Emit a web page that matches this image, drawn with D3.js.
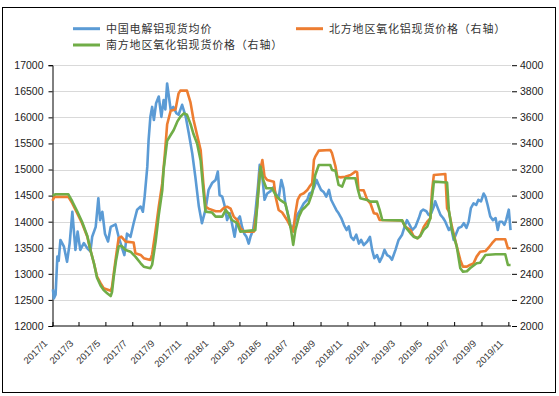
<!DOCTYPE html>
<html><head><meta charset="utf-8">
<script src="https://cdn.jsdelivr.net/npm/d3@7"></script>
<style>
body{margin:0;background:#fff;}
text{font-family:"Liberation Sans",Arial,sans-serif;}
.cjk{font-family:"Noto Sans CJK SC",sans-serif;}
</style></head>
<body><svg id="c" width="559" height="396"></svg>
<script>
const seriesNames = ["中国电解铝现货均价","北方地区氧化铝现货价格（右轴）","南方地区氧化铝现货价格（右轴）"];
const leftTicks = [12000,12500,13000,13500,14000,14500,15000,15500,16000,16500,17000];
const rightTicks = [2000,2200,2400,2600,2800,3000,3200,3400,3600,3800,4000];
const xTickLabels = ["2017/1","2017/3","2017/5","2017/7","2017/9","2017/11","2018/1","2018/3","2018/5","2018/7","2018/9","2018/11","2019/1","2019/3","2019/5","2019/7","2019/9","2019/11"];

const aluDates = ["2017-01-02","2017-01-04","2017-01-08","2017-01-12","2017-01-15","2017-01-19","2017-01-27","2017-02-03","2017-02-09","2017-02-15","2017-02-22","2017-02-27","2017-03-05","2017-03-13","2017-03-21","2017-03-28","2017-04-01","2017-04-09","2017-04-15","2017-04-19","2017-04-24","2017-04-30","2017-05-07","2017-05-13","2017-05-24","2017-05-31","2017-06-08","2017-06-13","2017-06-19","2017-06-27","2017-07-04","2017-07-12","2017-07-20","2017-07-25","2017-07-29","2017-08-04","2017-08-07","2017-08-11","2017-08-15","2017-08-19","2017-08-24","2017-08-30","2017-09-05","2017-09-10","2017-09-14","2017-09-18","2017-09-26","2017-10-02","2017-10-09","2017-10-14","2017-10-22","2017-10-30","2017-11-06","2017-11-14","2017-11-21","2017-11-29","2017-12-06","2017-12-14","2017-12-21","2017-12-29","2018-01-06","2018-01-11","2018-01-15","2018-01-21","2018-01-26","2018-02-01","2018-02-07","2018-02-12","2018-02-18","2018-02-24","2018-03-02","2018-03-07","2018-03-12","2018-03-17","2018-03-22","2018-03-26","2018-04-01","2018-04-06","2018-04-12","2018-04-16","2018-04-22","2018-04-27","2018-05-03","2018-05-10","2018-05-18","2018-05-22","2018-05-29","2018-06-04","2018-06-09","2018-06-13","2018-06-17","2018-06-21","2018-06-25","2018-06-28","2018-07-04","2018-07-10","2018-07-17","2018-07-25","2018-08-02","2018-08-07","2018-08-13","2018-08-18","2018-08-23","2018-08-28","2018-09-02","2018-09-08","2018-09-14","2018-09-20","2018-09-25","2018-10-01","2018-10-07","2018-10-12","2018-10-18","2018-10-24","2018-10-30","2018-11-04","2018-11-09","2018-11-15","2018-11-21","2018-11-27","2018-12-02","2018-12-08","2018-12-16","2018-12-22","2018-12-27","2019-01-01","2019-01-07","2019-01-13","2019-01-19","2019-01-24","2019-01-30","2019-02-05","2019-02-10","2019-02-18","2019-02-25","2019-03-05","2019-03-12","2019-03-16","2019-03-22","2019-03-28","2019-04-04","2019-04-12","2019-04-17","2019-04-22","2019-04-29","2019-05-04","2019-05-10","2019-05-16","2019-05-19","2019-05-25","2019-05-31","2019-06-06","2019-06-11","2019-06-19","2019-06-24","2019-06-30","2019-07-06","2019-07-11","2019-07-17","2019-07-23","2019-07-29","2019-08-03","2019-08-08","2019-08-14","2019-08-20","2019-08-25","2019-08-31","2019-09-06","2019-09-10","2019-09-15","2019-09-21","2019-09-27","2019-10-03","2019-10-08","2019-10-12","2019-10-18","2019-10-23","2019-10-27","2019-11-02","2019-11-06"];
const aluValues = [12700,12530,12600,13330,13250,13650,13520,13230,13590,14190,13460,13810,13460,13590,13490,13430,13710,13900,14450,14030,14190,13770,13620,13900,13950,13710,13490,13360,13770,13710,13970,14230,14290,14190,14480,15050,15570,16010,16200,15950,16270,16400,16010,16330,16150,16650,16150,16200,16080,16050,16240,16020,15700,15310,14860,14290,13970,14230,14610,14740,14800,14960,14510,14480,14320,14030,14160,13970,13710,14030,14100,13900,13770,13710,13580,13710,13840,14160,14670,15090,14860,14420,14540,14580,14670,14540,14450,14800,14640,14350,14220,14070,13910,13840,13970,14130,14220,14350,14420,14540,14570,14670,14800,14700,14610,14570,14480,14610,14420,14320,14220,14160,14070,13940,13840,13910,13710,13650,13750,13580,13650,13550,13620,13710,13460,13300,13360,13230,13330,13460,13360,13330,13270,13460,13650,13750,13940,14030,13940,13840,13900,14070,14200,14230,14200,14130,14160,14290,14390,14260,14130,14070,14000,13840,13900,13650,13780,13880,13900,13970,13880,14000,14260,14350,14320,14420,14390,14540,14480,14320,14100,14030,14070,13840,14000,14000,13940,14030,14230,13840];

const northDates = ["2017-01-01","2017-01-05","2017-02-06","2017-02-15","2017-02-26","2017-03-09","2017-03-21","2017-03-28","2017-04-05","2017-04-12","2017-04-20","2017-04-27","2017-05-05","2017-05-13","2017-05-16","2017-05-20","2017-05-25","2017-05-31","2017-06-06","2017-06-16","2017-07-04","2017-07-08","2017-07-20","2017-07-27","2017-08-11","2017-08-15","2017-08-23","2017-08-30","2017-09-07","2017-09-13","2017-09-18","2017-09-26","2017-10-07","2017-10-14","2017-10-18","2017-11-02","2017-11-10","2017-11-17","2017-11-25","2017-12-03","2017-12-09","2017-12-14","2017-12-21","2018-01-06","2018-01-17","2018-01-24","2018-02-01","2018-02-09","2018-02-16","2018-02-24","2018-03-03","2018-03-11","2018-04-03","2018-04-10","2018-04-16","2018-04-22","2018-04-27","2018-05-03","2018-05-18","2018-05-22","2018-05-29","2018-06-06","2018-06-13","2018-06-17","2018-06-25","2018-07-01","2018-07-06","2018-07-11","2018-07-17","2018-07-25","2018-08-02","2018-08-07","2018-08-13","2018-08-17","2018-08-20","2018-08-28","2018-09-23","2018-09-27","2018-10-05","2018-10-09","2018-10-16","2018-10-27","2018-11-08","2018-11-19","2018-11-23","2018-11-26","2018-12-08","2018-12-16","2018-12-23","2018-12-31","2019-01-07","2019-01-13","2019-03-05","2019-03-12","2019-03-24","2019-03-31","2019-04-09","2019-04-15","2019-04-23","2019-05-01","2019-05-08","2019-05-12","2019-05-16","2019-06-11","2019-06-15","2019-06-19","2019-06-26","2019-07-07","2019-07-15","2019-07-21","2019-07-30","2019-08-06","2019-08-14","2019-08-21","2019-08-29","2019-09-10","2019-09-17","2019-09-25","2019-10-03","2019-10-25","2019-10-31","2019-11-06"];
const northValues = [2960,2990,2990,2940,2865,2788,2685,2583,2481,2379,2328,2290,2280,2270,2300,2405,2532,2673,2685,2647,2640,2558,2545,2520,2507,2550,2737,2915,3095,3325,3545,3650,3660,3784,3805,3805,3715,3580,3465,3350,3100,2915,2900,2880,2880,2903,2915,2900,2839,2813,2750,2724,2724,2915,3171,3273,3145,3120,3107,2992,2890,2870,2834,2813,2762,2724,2865,2967,3005,3018,3043,3069,3095,3273,3299,3345,3350,3325,3222,3145,3140,3145,3158,3184,3180,3043,3040,2967,2941,2865,2860,2813,2810,2762,2736,2690,2673,2690,2760,2800,2826,3043,3158,3166,2903,2880,2762,2609,2507,2455,2455,2468,2480,2532,2570,2575,2600,2635,2665,2665,2596,2596];

const southDates = ["2017-01-01","2017-01-08","2017-02-06","2017-02-15","2017-02-26","2017-03-09","2017-03-21","2017-03-28","2017-04-05","2017-04-12","2017-04-20","2017-04-27","2017-05-05","2017-05-13","2017-05-16","2017-05-20","2017-05-25","2017-05-31","2017-06-06","2017-06-16","2017-06-27","2017-07-04","2017-07-08","2017-07-20","2017-07-27","2017-08-11","2017-08-15","2017-08-23","2017-08-30","2017-09-07","2017-09-10","2017-09-18","2017-09-26","2017-10-03","2017-10-11","2017-10-18","2017-10-26","2017-11-02","2017-11-10","2017-11-17","2017-11-25","2017-12-03","2017-12-09","2017-12-14","2017-12-29","2018-01-06","2018-01-21","2018-01-29","2018-02-05","2018-02-12","2018-02-24","2018-03-03","2018-04-06","2018-04-12","2018-04-18","2018-04-24","2018-05-01","2018-05-14","2018-05-22","2018-06-01","2018-06-13","2018-06-21","2018-06-26","2018-07-01","2018-07-06","2018-07-14","2018-07-21","2018-07-29","2018-08-05","2018-08-13","2018-08-20","2018-08-28","2018-09-23","2018-09-27","2018-10-05","2018-10-12","2018-10-20","2018-10-27","2018-11-19","2018-11-24","2018-11-30","2018-12-16","2018-12-23","2019-01-07","2019-01-13","2019-01-19","2019-03-05","2019-03-12","2019-03-24","2019-03-31","2019-04-09","2019-04-15","2019-04-23","2019-05-01","2019-05-08","2019-05-12","2019-05-16","2019-06-15","2019-06-19","2019-06-26","2019-07-07","2019-07-15","2019-07-21","2019-07-30","2019-08-06","2019-08-21","2019-08-29","2019-09-10","2019-10-03","2019-10-25","2019-10-31","2019-11-06"];
const southValues = [3000,3010,3010,2955,2880,2800,2690,2583,2481,2370,2310,2275,2251,2230,2260,2380,2500,2609,2615,2583,2570,2545,2532,2481,2455,2443,2470,2650,2850,3040,3197,3420,3465,3503,3567,3605,3631,3620,3550,3470,3400,3270,3043,2877,2870,2839,2839,2890,2860,2813,2788,2724,2735,2992,3222,3120,3056,3056,3005,2967,2941,2826,2737,2622,2737,2839,2890,2915,2941,3018,3158,3235,3235,3197,3190,3082,3069,3133,3133,3056,2980,2967,2954,2954,2890,2813,2810,2762,2711,2685,2673,2690,2737,2762,2826,2967,3107,3100,2890,2737,2609,2443,2417,2420,2443,2481,2485,2545,2550,2550,2468,2468];

const colors = ["#5B9BD5","#ED7D31","#70AD47"];
const parse = d3.timeParse("%Y-%m-%d");
const svg = d3.select("#c");
const L = 52.5, R = 511, T = 65.2, B = 326;

const x = d3.scaleTime().domain([parse("2017-01-01"), parse("2019-11-07")]).range([L, R]);
const yL = d3.scaleLinear().domain([12000,17000]).range([B, T]);
const yR = d3.scaleLinear().domain([2000,4000]).range([B, T]);

// outer frame
svg.append("rect").attr("x",2.5).attr("y",7.5).attr("width",553).attr("height",385)
  .attr("fill","#fff").attr("stroke","#000").attr("stroke-width",1);

// gridlines
svg.append("g").selectAll("line").data(leftTicks.slice(1)).join("line")
  .attr("x1",L).attr("x2",R).attr("y1",d=>Math.round(yL(d))+0.5).attr("y2",d=>Math.round(yL(d))+0.5)
  .attr("stroke","#D9D9D9").attr("stroke-width",1);

// left axis
const gl = svg.append("g").attr("transform",`translate(${L},0)`)
  .call(d3.axisLeft(yL).tickValues(leftTicks).tickSize(4).tickFormat(d3.format("d")));
gl.select(".domain").attr("stroke","#000");
gl.selectAll(".tick line").attr("stroke","#000");
gl.selectAll(".tick text").attr("font-size","10.5px").attr("fill","#222").attr("x",-9);

// right axis (ticks only)
const gr = svg.append("g").attr("transform",`translate(${R},0)`)
  .call(d3.axisRight(yR).tickValues(rightTicks).tickSize(5).tickFormat(d3.format("d")));
gr.select(".domain").remove();
gr.selectAll(".tick line").attr("stroke","#000").attr("transform","translate(1,0)");
gr.selectAll(".tick text").attr("font-size","10.5px").attr("fill","#222").attr("x",9);

// x axis
const xTicks = xTickLabels.map(s => { const [yy,mm] = s.split("/"); return new Date(+yy, +mm-1, 1); });
const gx = svg.append("g").attr("transform",`translate(0,${B})`)
  .call(d3.axisBottom(x).tickValues(xTicks).tickSize(-4).tickFormat((d,i)=>xTickLabels[i]));
gx.select(".domain").attr("stroke","#000").attr("d",`M${L},0H${R}`);
gx.selectAll(".tick line").attr("stroke","#000");
gx.selectAll(".tick text").attr("font-size","9.5px").attr("fill","#333")
  .attr("text-anchor","end").attr("y",0).attr("dy",0)
  .attr("transform","translate(-5,18) rotate(-45)");

// lines
function mk(dates, vals){ return dates.map((d,i)=>({d:parse(d), v:vals[i]})); }
const sets = [
  {data: mk(aluDates, aluValues), y: yL, c: colors[0]},
  {data: mk(northDates, northValues), y: yR, c: colors[1]},
  {data: mk(southDates, southValues), y: yR, c: colors[2]}
];
sets.forEach(s=>{
  svg.append("path").datum(s.data)
    .attr("d", d3.line().x(d=>x(d.d)).y(d=>s.y(d.v)))
    .attr("fill","none").attr("stroke",s.c).attr("stroke-width",2.6).attr("stroke-linejoin","round");
});

// legend
const legend = [
  {name: seriesNames[0], c: colors[0], x: 73, y: 28.7},
  {name: seriesNames[1], c: colors[1], x: 296, y: 28.7},
  {name: seriesNames[2], c: colors[2], x: 73, y: 45}
];
const lg = svg.append("g").selectAll("g").data(legend).join("g")
  .attr("transform", d=>`translate(${d.x},${d.y})`);
lg.append("line").attr("x1",0).attr("x2",27).attr("stroke",d=>d.c).attr("stroke-width",3);
lg.append("text").attr("class","cjk").attr("x",33).attr("dy","0.35em")
  .attr("font-size","11px").attr("letter-spacing","0.8px").attr("fill","#333")
  .text(d=>d.name);
</script></body></html>
